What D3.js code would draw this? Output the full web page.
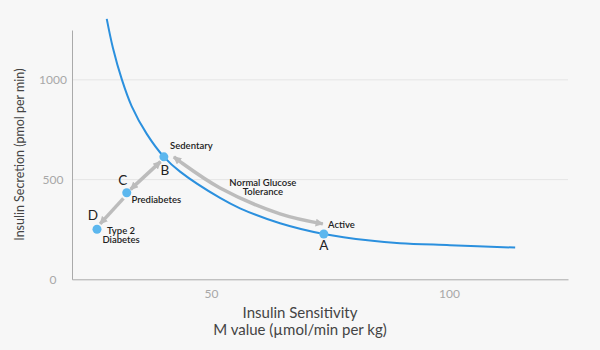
<!DOCTYPE html>
<html>
<head>
<meta charset="utf-8">
<script src="https://cdn.jsdelivr.net/npm/d3@7"></script>
<style>
    body { margin: 0; background: #f7f7f7; }
    #chart-area { width: 600px; height: 350px; }
    text { font-family: "Lato", "Open Sans", sans-serif; }
</style>
</head>
<body>
<div id="chart-area"></div>
<script>

// blue curve (M value, pmol/min)
let curveX = [28.1, 29.4, 31.3, 33.3, 36.5, 40.1, 43.5, 51.9, 56.1, 64.5, 73.7, 83.4, 89.7, 100.2, 113.9];
let curveY = [1306, 1160, 1000, 870, 729, 614, 540, 408, 356, 281, 227, 194, 181, 171, 159];

// labelled points
let pointNames = ["A", "B", "C", "D"];
let pointX = [73.7, 40.1, 32.3, 26.05];
let pointY = [227, 614, 434, 251];

// text notes
let noteText = [["Sedentary"], ["Prediabetes"], ["Type 2", "Diabetes"], ["Normal Glucose", "Tolerance"], ["Active"]];
let noteX = [41.4, 33.3, 31.1, 60.9, 74.6];
let noteY = [669, 398, 247, 487, 277];

// grey arrows
let arrowX = [[33.1, 39.4], [31.6, 26.7], [42.2, 43.5, 51.9, 64.5, 73.5]];
let arrowY = [[451, 590], [406, 278], [614, 590, 458, 328, 278]];
let arrowBothEnds = [true, false, true];

let xTicks = [50, 100];
let yTicks = [0, 500, 1000];

class CurveVis {

    constructor(parentElement) {
        this.parentElement = parentElement;
        this.initVis();
    }

    initVis() {
        let vis = this;

        vis.margin = {top: 30, right: 32, bottom: 70.7, left: 72};
        vis.width = 600 - vis.margin.left - vis.margin.right;
        vis.height = 350 - vis.margin.top - vis.margin.bottom;

        vis.root = d3.select("#" + vis.parentElement).append("svg")
            .attr("width", 600)
            .attr("height", 350)
            .style("background", "#f7f7f7");

        // arrow heads
        let defs = vis.root.append("defs");
        ["head-end", "head-start"].forEach(id => {
            defs.append("marker")
                .attr("id", id)
                .attr("viewBox", "0 0 10 10")
                .attr("refX", 9)
                .attr("refY", 5)
                .attr("markerWidth", 8)
                .attr("markerHeight", 8)
                .attr("markerUnits", "userSpaceOnUse")
                .attr("orient", id === "head-end" ? "auto" : "auto-start-reverse")
                .append("path")
                .attr("d", "M0,0 L10,5 L0,10 Z")
                .attr("fill", "#bcbcbc");
        });

        vis.svg = vis.root.append("g")
            .attr("transform", `translate(${vis.margin.left}, ${vis.margin.top})`);

        vis.x = d3.scaleLinear().domain([20.8, 125]).range([0, vis.width]);
        vis.y = d3.scaleLinear().domain([0, 1250]).range([vis.height, 0]);

        this.wrangleData();
    }

    wrangleData() {
        let vis = this;
        vis.curveData = curveX.map((x, i) => ({x: x, y: curveY[i]}));
        vis.points = pointNames.map((n, i) => ({name: n, x: pointX[i], y: pointY[i]}));
        vis.notes = noteText.map((t, i) => ({lines: t, x: noteX[i], y: noteY[i]}));
        vis.arrows = arrowX.map((xs, i) => ({pts: xs.map((x, j) => ({x: x, y: arrowY[i][j]})), both: arrowBothEnds[i]}));
        vis.updateVis();
    }

    updateVis() {
        let vis = this;

        // gridlines
        vis.svg.selectAll(".grid")
            .data(yTicks.filter(d => d > 0))
            .enter().append("line")
            .attr("class", "grid")
            .attr("x1", 0).attr("x2", vis.width)
            .attr("y1", d => vis.y(d)).attr("y2", d => vis.y(d))
            .attr("stroke", "#e5e5e5")
            .attr("stroke-width", 1);

        // axes
        let yAxis = d3.axisLeft(vis.y).tickValues(yTicks).tickFormat(d3.format("d")).tickSize(0).tickPadding(19);
        let xAxis = d3.axisBottom(vis.x).tickValues(xTicks).tickFormat(d3.format("d")).tickSize(0).tickPadding(10);

        let yG = vis.svg.append("g").attr("class", "y-axis axis").call(yAxis);
        let xG = vis.svg.append("g").attr("class", "x-axis axis")
            .attr("transform", "translate(0," + vis.height + ")").call(xAxis);

        [xG, yG].forEach(g => {
            g.select(".domain").attr("stroke", "#aaaaaa");
            g.selectAll("text").attr("fill", "#a8a8a8").style("font-size", "12px");
        });
        yG.selectAll("text").attr("text-anchor", "middle");

        // axis titles
        vis.svg.append("text")
            .attr("transform", `translate(${21 - vis.margin.left}, ${vis.height / 2}) rotate(-90)`)
            .attr("text-anchor", "middle")
            .attr("dominant-baseline", "middle")
            .attr("fill", "#444")
            .style("font-size", "12.5px")
            .text("Insulin Secretion (pmol per min)");

        vis.svg.append("text")
            .attr("x", 300 - vis.margin.left)
            .attr("y", vis.height + 39)
            .attr("text-anchor", "middle")
            .attr("fill", "#444")
            .style("font-size", "15px")
            .selectAll("tspan")
            .data(["Insulin Sensitivity", "M value (µmol/min per kg)"])
            .enter().append("tspan")
            .attr("x", 300 - vis.margin.left)
            .attr("dy", (d, i) => i === 0 ? 0 : 16.5)
            .text(d => d);

        // curve
        let line = d3.line()
            .x(d => vis.x(d.x))
            .y(d => vis.y(d.y))
            .curve(d3.curveCatmullRom.alpha(0.5));

        vis.svg.append("path")
            .datum(vis.curveData)
            .attr("d", line)
            .attr("fill", "none")
            .attr("stroke", "#2b90de")
            .attr("stroke-width", 2);

        // arrows
        vis.svg.selectAll(".arrow")
            .data(vis.arrows)
            .enter().append("path")
            .attr("class", "arrow")
            .attr("d", d => line(d.pts))
            .attr("fill", "none")
            .attr("stroke", "#bcbcbc")
            .attr("stroke-width", 3.5)
            .attr("marker-end", "url(#head-end)")
            .attr("marker-start", d => d.both ? "url(#head-start)" : null);

        // points
        vis.svg.selectAll(".dot")
            .data(vis.points)
            .enter().append("circle")
            .attr("class", "dot")
            .attr("cx", d => vis.x(d.x))
            .attr("cy", d => vis.y(d.y))
            .attr("r", 4.5)
            .attr("fill", "#5cb7ee");

        // letter labels: offsets in px
        let letterOffset = {A: [0, 12.5], B: [1, 15], C: [-4, -11], D: [-4, -13]};
        vis.svg.selectAll(".letter")
            .data(vis.points)
            .enter().append("text")
            .attr("class", "letter")
            .attr("x", d => vis.x(d.x) + letterOffset[d.name][0])
            .attr("y", d => vis.y(d.y) + letterOffset[d.name][1])
            .attr("text-anchor", "middle")
            .attr("dominant-baseline", "middle")
            .attr("fill", "#222")
            .style("font-size", "13.5px")
            .text(d => d.name);

        // notes
        vis.svg.selectAll(".note")
            .data(vis.notes)
            .enter().append("text")
            .attr("class", "note")
            .attr("text-anchor", d => d.lines.length > 1 ? "middle" : "start")
            .attr("fill", "#222")
            .style("font-size", "9.5px")
            .style("font-weight", 600)
            .each(function (d) {
                d3.select(this).selectAll("tspan")
                    .data(d.lines)
                    .enter().append("tspan")
                    .attr("x", vis.x(d.x))
                    .attr("y", (l, i) => vis.y(d.y) + i * 9.5 + 3.5)
                    .text(l => l);
            });
    }
}

let curveVis = new CurveVis("chart-area");

</script>
</body>
</html>
